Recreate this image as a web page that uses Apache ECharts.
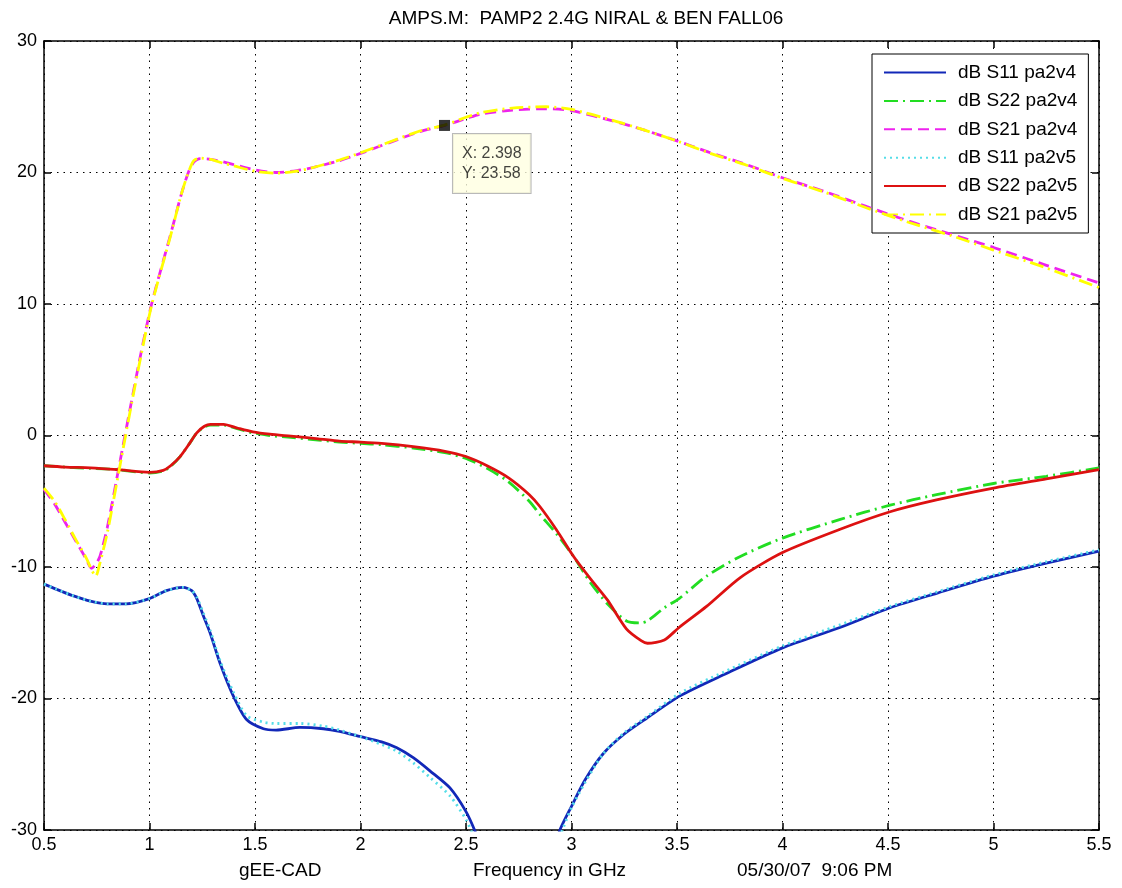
<!DOCTYPE html>
<html>
<head>
<meta charset="utf-8">
<script src="https://cdn.jsdelivr.net/npm/echarts@6/dist/echarts.min.js"></script>
<style>html,body{margin:0;padding:0;background:#fff;}#c{width:1122px;height:888px;}</style>
</head>
<body>
<div id="c"></div>
<script>
// ---- data ----
const titleText = 'AMPS.M:  PAMP2 2.4G NIRAL & BEN FALL06';
const xTicks = [0.5, 1, 1.5, 2, 2.5, 3, 3.5, 4, 4.5, 5, 5.5];
const yTicks = [-30, -20, -10, 0, 10, 20, 30];
const seriesNames = ['dB S11 pa2v4', 'dB S22 pa2v4', 'dB S21 pa2v4', 'dB S11 pa2v5', 'dB S22 pa2v5', 'dB S21 pa2v5'];
const footTexts = ['gEE-CAD', 'Frequency in GHz', '05/30/07  9:06 PM'];

// S21 (gain)
const s21Freq = [0.5, 0.55, 0.6, 0.65, 0.7, 0.725, 0.745, 0.765, 0.8, 0.86, 0.916, 0.96, 1.01, 1.1, 1.15, 1.184, 1.21, 1.24, 1.29, 1.35, 1.4, 1.5, 1.6, 1.7, 1.78, 1.89, 2.0, 2.15, 2.28, 2.398, 2.5, 2.57, 2.72, 2.88, 3.0, 3.2, 3.35, 3.5, 3.65, 3.83, 4.0, 4.2, 4.4, 4.6, 4.8, 5.0, 5.24, 5.5];
const s21v4 = [-4.1, -5.2, -6.6, -8.0, -9.4, -10.1, -9.8, -9.2, -7.0, -2.0, 2.7, 6.3, 10.0, 15.3, 18.3, 20.0, 20.8, 21.05, 21.0, 20.8, 20.6, 20.2, 20.0, 20.15, 20.4, 20.85, 21.45, 22.35, 23.1, 23.58, 24.1, 24.45, 24.75, 24.85, 24.7, 23.9, 23.2, 22.4, 21.55, 20.6, 19.6, 18.55, 17.4, 16.3, 15.3, 14.3, 13.0, 11.6];
const s21v5 = [-4.0, -5.0, -6.4, -7.9, -9.3, -10.2, -10.7, -9.7, -7.4, -2.3, 2.5, 6.1, 9.9, 15.2, 18.3, 20.0, 20.9, 21.1, 21.0, 20.7, 20.5, 20.1, 19.95, 20.1, 20.4, 20.9, 21.5, 22.4, 23.15, 23.6, 24.2, 24.55, 24.9, 25.0, 24.8, 23.95, 23.2, 22.4, 21.5, 20.55, 19.55, 18.5, 17.3, 16.2, 15.2, 14.1, 12.8, 11.25];

// S22 (output match)
const s22Freq = [0.5, 0.6, 0.72, 0.85, 1.0, 1.065, 1.1, 1.145, 1.19, 1.224, 1.26, 1.29, 1.35, 1.42, 1.49, 1.57, 1.67, 1.8, 1.9, 2.0, 2.1, 2.25, 2.4, 2.5, 2.6, 2.7, 2.8, 2.85, 2.93, 3.01, 3.09, 3.17, 3.26, 3.33, 3.36, 3.44, 3.51, 3.64, 3.8, 4.0, 4.27, 4.51, 4.73, 5.0, 5.25, 5.5];
const s22v4 = [-2.3, -2.4, -2.5, -2.6, -2.85, -2.7, -2.35, -1.6, -0.6, 0.2, 0.65, 0.8, 0.8, 0.5, 0.2, 0.0, -0.15, -0.35, -0.5, -0.6, -0.7, -0.95, -1.3, -1.75, -2.5, -3.5, -5.0, -6.0, -7.5, -9.2, -11.2, -12.8, -14.1, -14.25, -14.1, -13.1, -12.4, -10.7, -9.2, -7.8, -6.4, -5.3, -4.5, -3.65, -3.1, -2.47];
const s22v5 = [-2.3, -2.4, -2.46, -2.6, -2.8, -2.65, -2.3, -1.6, -0.6, 0.2, 0.7, 0.85, 0.85, 0.55, 0.28, 0.1, -0.05, -0.25, -0.43, -0.5, -0.6, -0.85, -1.2, -1.6, -2.3, -3.2, -4.5, -5.4, -7.2, -9.2, -10.9, -12.5, -14.7, -15.6, -15.8, -15.55, -14.6, -13.0, -10.8, -8.9, -7.15, -5.8, -4.9, -4.0, -3.3, -2.6];

// S11 (input match)
const s11Freq = [0.5, 0.56, 0.64, 0.72, 0.8, 0.89, 1.0, 1.08, 1.16, 1.2, 1.224, 1.255, 1.287, 1.334, 1.397, 1.46, 1.54, 1.6, 1.713, 1.824, 1.9, 2.0, 2.1, 2.172, 2.25, 2.329, 2.424, 2.5, 2.543, 2.6, 2.88, 2.945, 3.0, 3.064, 3.15, 3.25, 3.356, 3.514, 3.72, 4.0, 4.272, 4.51, 4.73, 5.0, 5.25, 5.5];
const s11v4 = [-11.3, -11.7, -12.2, -12.6, -12.8, -12.8, -12.4, -11.8, -11.55, -11.8, -12.4, -13.7, -15.0, -17.3, -19.8, -21.6, -22.3, -22.4, -22.2, -22.3, -22.5, -22.9, -23.3, -23.75, -24.5, -25.5, -26.8, -28.6, -30.1, -32.5, -33.0, -30.0, -28.2, -26.2, -24.2, -22.7, -21.5, -19.8, -18.2, -16.15, -14.6, -13.1, -12.0, -10.7, -9.7, -8.8];
const s11v5 = [-11.3, -11.7, -12.2, -12.6, -12.8, -12.8, -12.4, -11.8, -11.55, -11.8, -12.3, -13.5, -14.8, -17.1, -19.5, -21.3, -21.8, -21.9, -21.9, -22.1, -22.4, -22.9, -23.5, -24.0, -24.9, -26.0, -27.4, -29.2, -30.8, -33.0, -33.5, -30.5, -28.3, -26.4, -24.2, -22.6, -21.4, -19.6, -18.0, -16.0, -14.4, -13.0, -11.9, -10.6, -9.6, -8.7];

// data tip
const tipX = [2.398];
const tipY = [23.58];

// ---- chart ----
function pairs(xs, ys) { return xs.map((x, i) => [x, ys[i]]); }
const font = 'Liberation Sans, Arial, sans-serif';

const styles = [
  { color: '#1228b8', type: 'solid', width: 2.8 },
  { color: '#22dd22', type: [14, 5, 2, 5], width: 2.8 },
  { color: '#ee22ee', type: [11, 6], width: 2.8 },
  { color: '#55dde8', type: [2, 4], width: 2.8 },
  { color: '#dd1111', type: 'solid', width: 2.8 },
  { color: '#ffff00', type: [14, 5, 2, 5], width: 2.8 }
];
const datasets = [
  pairs(s11Freq, s11v4), pairs(s22Freq, s22v4), pairs(s21Freq, s21v4),
  pairs(s11Freq, s11v5), pairs(s22Freq, s22v5), pairs(s21Freq, s21v5)
];

const series = seriesNames.map((name, i) => ({
  name: name,
  type: 'line',
  data: datasets[i],
  showSymbol: false,
  symbol: 'none',
  smooth: 0.25,
  clip: true,
  color: styles[i].color,
  lineStyle: { color: styles[i].color, type: styles[i].type, width: styles[i].width },
  z: 2 + i
}));

series.push({
  name: 'tip',
  type: 'scatter',
  data: pairs(tipX, tipY),
  symbol: 'rect',
  symbolSize: 11,
  itemStyle: { color: '#000' },
  z: 20,
  label: {
    show: true,
    position: [14, 14],
    formatter: p => 'X: ' + p.value[0].toFixed(3) + '\nY: ' + p.value[1].toFixed(2),
    backgroundColor: '#ffffe1',
    borderColor: '#a8a8a8',
    borderWidth: 1,
    padding: [10, 9, 9, 9],
    fontFamily: font,
    fontSize: 16,
    lineHeight: 20,
    color: '#111'
  }
});

const chart = echarts.init(document.getElementById('c'), null, { renderer: 'canvas' });
const axisCommon = {
  axisLine: { show: true, onZero: false, lineStyle: { color: '#000', width: 1.5 } },
  axisTick: { show: true, inside: true, length: 7, lineStyle: { color: '#000', width: 1.5 } }
};
const footLeft = [239, 473, 737];
chart.setOption({
  backgroundColor: '#fff',
  animation: false,
  title: {
    text: titleText,
    left: 581, top: 4, textAlign: 'center',
    textStyle: { fontFamily: font, fontSize: 19, fontWeight: 'normal', color: '#000' }
  },
  grid: { left: 44, top: 41, width: 1055, height: 789, show: false, containLabel: false },
  legend: {
    data: seriesNames,
    orient: 'vertical',
    left: 872, top: 54,
    itemWidth: 62, itemHeight: 20, itemGap: 7.4,
    padding: [8, 11, 8, 11],
    backgroundColor: '#fff',
    borderColor: '#000', borderWidth: 1,
    itemStyle: { opacity: 0 },
    textStyle: { fontFamily: font, fontSize: 19, color: '#000', padding: [0, 0, 0, 7], lineHeight: 21 }
  },
  xAxis: [
    Object.assign({
      type: 'value', min: 0.5, max: 5.5, interval: 0.5, position: 'bottom',
      axisLabel: { fontFamily: font, fontSize: 18, color: '#000', margin: 6, formatter: v => String(v) },
      splitLine: { show: true, lineStyle: { color: '#000', type: [1.5, 5], width: 1 } }
    }, axisCommon),
    Object.assign({
      type: 'value', min: 0.5, max: 5.5, interval: 0.5, position: 'top',
      axisLabel: { show: false }, splitLine: { show: false }
    }, axisCommon)
  ],
  yAxis: [
    Object.assign({
      type: 'value', min: -30, max: 30, interval: 10, position: 'left',
      axisLabel: { fontFamily: font, fontSize: 18, color: '#000', margin: 7 },
      splitLine: { show: true, lineStyle: { color: '#000', type: [1.5, 5], width: 1 } }
    }, axisCommon),
    Object.assign({
      type: 'value', min: -30, max: 30, interval: 10, position: 'right',
      axisLabel: { show: false }, splitLine: { show: false }
    }, axisCommon)
  ],
  graphic: footTexts.map((t, i) => ({
    type: 'text', left: footLeft[i], top: 861,
    style: { text: t, fontFamily: font, fontSize: 19, fill: '#000' }
  })),
  series: series
});
</script>
</body>
</html>
